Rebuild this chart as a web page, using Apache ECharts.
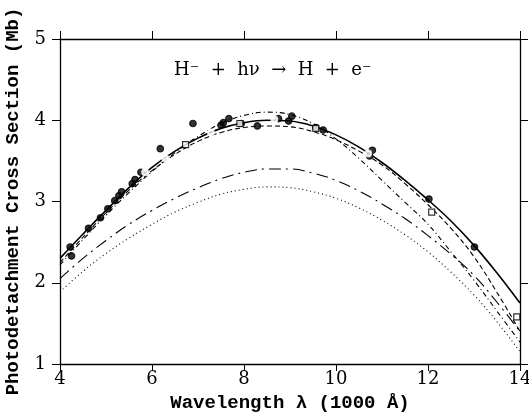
<!DOCTYPE html>
<html>
<head>
<meta charset="utf-8">
<script src="https://cdn.jsdelivr.net/npm/echarts@6/dist/echarts.min.js"></script>
<style>
html,body{margin:0;padding:0;background:#fff;}
#chart{width:529px;height:413px;}
</style>
</head>
<body>
<div id="chart"></div>
<script>
// wavelength grid (1000 A)
const waves = [4,4.5,5,5.5,6,6.5,7,7.5,8,8.5,9,9.5,10,10.5,11,11.5,12,12.5,13,13.5,14];

// theory curves (Mb)
const solidFit =       [2.30,2.60,2.89,3.17,3.42,3.62,3.78,3.90,3.97,4.00,3.99,3.93,3.82,3.67,3.48,3.26,3.02,2.76,2.46,2.12,1.75];
const dashFit =        [2.25,2.56,2.86,3.14,3.38,3.58,3.74,3.85,3.91,3.93,3.92,3.86,3.76,3.62,3.45,3.22,2.96,2.67,2.32,1.88,1.40];
const dashDotFit =     [2.22,2.53,2.83,3.11,3.37,3.60,3.80,3.96,4.06,4.10,4.07,3.96,3.77,3.53,3.26,2.99,2.72,2.38,2.03,1.65,1.27];
const longDashDotFit = [2.05,2.30,2.52,2.72,2.89,3.04,3.17,3.28,3.36,3.40,3.40,3.35,3.26,3.13,2.97,2.79,2.58,2.35,2.09,1.76,1.40];
const dotFit =         [1.89,2.14,2.36,2.55,2.72,2.87,2.99,3.09,3.15,3.18,3.17,3.12,3.04,2.92,2.77,2.59,2.38,2.13,1.85,1.52,1.15];

// measurements
const filledX = [4.22,4.25,4.62,4.88,5.04,5.19,5.28,5.34,5.57,5.63,5.76,6.18,6.89,7.50,7.55,7.67,7.94,8.29,8.75,8.97,9.04,9.56,9.72,10.73,10.79,12.02,13.01];
const filledY = [2.44,2.33,2.67,2.80,2.91,3.01,3.07,3.12,3.22,3.27,3.36,3.65,3.96,3.94,3.97,4.02,3.96,3.93,4.02,3.99,4.05,3.91,3.88,3.56,3.63,3.03,2.44];
const openCircX = [5.85,6.29,7.28,8.66,10.70];
const openCircY = [3.36,3.53,3.85,4.01,3.59];
const squareX = [6.73,7.91,9.56,12.08,13.93];
const squareY = [3.70,3.96,3.90,2.87,1.58];

const chart = echarts.init(document.getElementById("chart"));

const pair = (xs, ys) => xs.map((x, i) => [x, ys[i]]);

function curve(vals, type, width) {
  return {
    type: "line",
    data: pair(waves, vals),
    smooth: 0.4,
    showSymbol: false,
    silent: true,
    lineStyle: { color: "#000", width: width || 1.1, type: type }
  };
}

function dots(xs, ys, symbol, size) {
  return {
    type: "scatter",
    data: pair(xs, ys),
    symbol: symbol,
    symbolSize: size,
    itemStyle: { color: symbol === "circle" ? "#000" : "#fff", borderColor: "#000", borderWidth: 1.2 },
    z: 5
  };
}

const tickFont = { color: "#000", fontFamily: "DejaVu Serif", fontSize: 18 };
const titleFont = { color: "#000", fontFamily: "Liberation Mono", fontWeight: "bold", fontSize: 19 };

chart.setOption({
  animation: false,
  backgroundColor: "#fff",
  grid: { left: 60, right: 9, top: 39, bottom: 49, outerBoundsMode: "none", containLabel: false },
  xAxis: [
    {
      type: "value", min: 4, max: 14, interval: 2,
      name: "Wavelength λ (1000 Å)", nameLocation: "middle", nameGap: 30,
      nameTextStyle: titleFont,
      axisLine: { lineStyle: { color: "#000", width: 1.3 } },
      axisTick: { inside: false, length: 7, lineStyle: { color: "#000" } },
      axisLabel: Object.assign({ margin: 6 }, tickFont),
      splitLine: { show: false }
    },
    {
      type: "value", position: "top", min: 4, max: 14, interval: 2,
      axisLine: { lineStyle: { color: "#000", width: 1.3 } },
      axisTick: { inside: false, length: 8, lineStyle: { color: "#000" } },
      axisLabel: { show: false },
      splitLine: { show: false }
    }
  ],
  yAxis: [
    {
      type: "value", min: 1, max: 5, interval: 1,
      name: "Photodetachment Cross Section (Mb)", nameLocation: "middle", nameGap: 37,
      nameTextStyle: titleFont,
      axisLine: { lineStyle: { color: "#000", width: 1.3 } },
      axisTick: { inside: false, length: 8, lineStyle: { color: "#000" } },
      axisLabel: Object.assign({ margin: 14 }, tickFont),
      splitLine: { show: false }
    },
    {
      type: "value", position: "right", min: 1, max: 5, interval: 1,
      axisLine: { lineStyle: { color: "#000", width: 1.3 } },
      axisTick: { inside: false, length: 8, lineStyle: { color: "#000" } },
      axisLabel: { show: false },
      splitLine: { show: false }
    }
  ],
  graphic: [
    {
      type: "text", left: 174, top: 61,
      style: { text: "H⁻  +  hν  →  H  +  e⁻", fill: "#000", font: "18px 'DejaVu Serif'" }
    }
  ],
  series: [
    curve(solidFit, "solid", 1.6),
    curve(dashFit, [5, 3]),
    curve(dashDotFit, [5, 3, 1, 3]),
    curve(longDashDotFit, [12, 5, 2, 5]),
    curve(dotFit, [1, 3]),
    dots(filledX, filledY, "circle", 6.5),
    dots(openCircX, openCircY, "emptyCircle", 6),
    dots(squareX, squareY, "rect", 6)
  ]
});

window.addEventListener("resize", () => chart.resize());
</script>
</body>
</html>
